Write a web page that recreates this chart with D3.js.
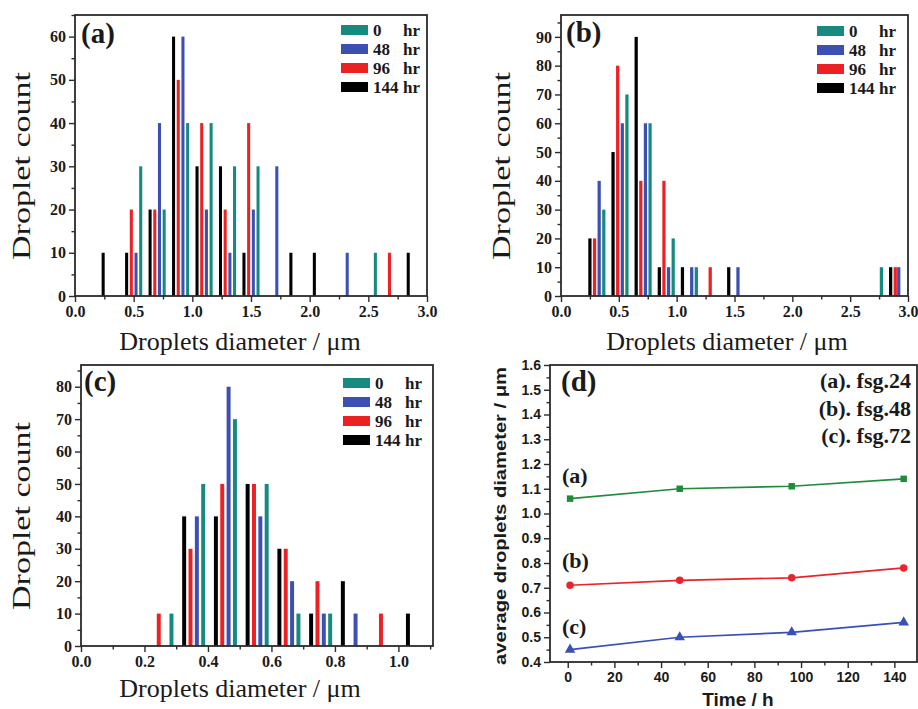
<!DOCTYPE html>
<html><head><meta charset="utf-8">
<script src="https://cdn.jsdelivr.net/npm/d3@7"></script>
<style>body{margin:0;background:#fff}svg{display:block}</style>
</head><body>
<svg id="c" width="918" height="709"></svg>
<script>
// ---------- DATA ----------
const legendNames = ["0", "48", "96", "144"];
const seriesColors = ["#178a80", "#3c4fb3", "#ec2124", "#000000"];

// panel (a): diameters (µm) and droplet counts
const a0x = [0.56, 0.76, 0.96, 1.16, 1.36, 1.56, 2.56];
const a0y = [30, 20, 40, 40, 30, 30, 10];
const a48x = [0.52, 0.72, 0.92, 1.12, 1.32, 1.52, 1.72, 2.32];
const a48y = [10, 40, 60, 20, 10, 20, 30, 10];
const a96x = [0.48, 0.68, 0.88, 1.08, 1.28, 1.48, 2.68];
const a96y = [20, 20, 50, 40, 20, 40, 10];
const a144x = [0.24, 0.44, 0.64, 0.84, 1.04, 1.24, 1.44, 1.84, 2.04, 2.84];
const a144y = [10, 10, 20, 60, 30, 30, 10, 10, 10, 10];

// panel (b)
const b0x = [0.37, 0.57, 0.77, 0.97, 1.17, 2.77];
const b0y = [30, 70, 60, 20, 10, 10];
const b48x = [0.33, 0.53, 0.73, 0.93, 1.13, 1.53, 2.92];
const b48y = [40, 60, 60, 10, 10, 10, 10];
const b96x = [0.29, 0.49, 0.69, 0.89, 1.29, 2.89];
const b96y = [20, 80, 40, 40, 10, 10];
const b144x = [0.25, 0.45, 0.65, 0.85, 1.05, 1.45, 2.85];
const b144y = [20, 50, 90, 10, 10, 10, 10];

// panel (c)
const c0x = [0.285, 0.385, 0.485, 0.585, 0.685, 0.785];
const c0y = [10, 50, 70, 50, 10, 10];
const c48x = [0.365, 0.465, 0.565, 0.665, 0.765, 0.865];
const c48y = [40, 80, 40, 20, 10, 10];
const c96x = [0.245, 0.345, 0.445, 0.545, 0.645, 0.745, 0.945];
const c96y = [10, 30, 50, 50, 30, 20, 10];
const c144x = [0.325, 0.425, 0.525, 0.625, 0.725, 0.825, 1.03];
const c144y = [40, 40, 50, 30, 10, 20, 10];

// panel (d)
const timeH = [1, 48, 96, 144];
const fsg24 = [1.06, 1.10, 1.11, 1.14];
const fsg48 = [0.71, 0.73, 0.74, 0.78];
const fsg72 = [0.45, 0.50, 0.52, 0.56];
const dLegend = ["(a). fsg.24", "(b). fsg.48", "(c). fsg.72"];

// ---------- DRAWING ----------
const svg = d3.select("#c");
const SERIF = "'Liberation Serif','Times New Roman',serif";
const SANS = "'Liberation Sans',Arial,sans-serif";
const AX = "#2b2b2b";
const TXT = "#1a1a1a";

function range(a, b, s) { const out = []; for (let v = a; v <= b + 1e-9; v += s) out.push(+v.toFixed(6)); return out; }

function styleAxis(g, font, size) {
  g.attr("font-family", font).attr("font-size", size);
  g.select(".domain").remove();
  g.selectAll(".tick line").attr("stroke", AX).attr("stroke-width", 1.4);
  g.selectAll(".tick text").attr("fill", TXT).attr("font-family", font)
    .attr("font-weight", "bold").attr("font-size", size);
}

function drawFrame(p, x, y, font, size) {
  const g = svg.append("g");
  g.append("g").attr("transform", `translate(0,${p.b})`)
    .call(d3.axisBottom(x).tickValues(p.xMinor).tickSize(3.5).tickFormat(""))
    .call(s => styleAxis(s, font, size));
  g.append("g").attr("transform", `translate(${p.l},0)`)
    .call(d3.axisLeft(y).tickValues(p.yMinor).tickSize(3.5).tickFormat(""))
    .call(s => styleAxis(s, font, size));
  g.append("g").attr("transform", `translate(0,${p.b})`)
    .call(d3.axisBottom(x).tickValues(p.xMajor).tickSize(6).tickPadding(p.xPad).tickFormat(p.xFmt))
    .call(s => styleAxis(s, font, size));
  g.append("g").attr("transform", `translate(${p.l},0)`)
    .call(d3.axisLeft(y).tickValues(p.yMajor).tickSize(6).tickPadding(p.yPad).tickFormat(p.yFmt))
    .call(s => styleAxis(s, font, size));
  svg.append("rect").attr("x", p.l).attr("y", p.t).attr("width", p.r - p.l).attr("height", p.b - p.t)
    .attr("fill", "none").attr("stroke", AX).attr("stroke-width", 1.8);
}

function drawHist(p) {
  const x = d3.scaleLinear().domain(p.xd).range([p.l, p.r]);
  const y = d3.scaleLinear().domain(p.yd).range([p.b, p.t]);
  const bw = x(p.barW) - x(0);
  p.series.forEach((s, i) => {
    svg.append("g").selectAll("rect")
      .data(s.x.map((v, j) => ({ d: v, c: s.y[j] })))
      .join("rect")
      .attr("x", d => x(d.d) - bw / 2).attr("width", bw)
      .attr("y", d => y(d.c)).attr("height", d => y(0) - y(d.c))
      .attr("fill", seriesColors[i]);
  });
  drawFrame(p, x, y, SERIF, 16);
  svg.append("text").attr("x", p.tagX).attr("y", p.tagY).text(p.tag)
    .attr("font-family", SERIF).attr("font-weight", "bold").attr("font-size", 29).attr("fill", TXT);
  legendNames.forEach((n, i) => {
    const cy = p.legY + i * 19;
    svg.append("rect").attr("x", p.legX).attr("y", cy - 5).attr("width", 27).attr("height", 10)
      .attr("fill", seriesColors[i]);
    const t = svg.append("text").attr("y", cy + 6).attr("font-family", SERIF).attr("font-weight", "bold")
      .attr("font-size", 17).attr("fill", TXT);
    t.append("tspan").attr("x", p.legX + 32).text(n);
    t.append("tspan").attr("x", p.legX + 62).text("hr");
  });
  svg.append("text").attr("x", p.xtX).attr("y", p.xtY).attr("text-anchor", "middle")
    .attr("font-family", SERIF).attr("font-size", 26).attr("fill", TXT).text("Droplets diameter / μm");
  svg.append("text").attr("transform", `translate(${p.ytX},${p.ytY}) rotate(-90)`)
    .attr("text-anchor", "middle").attr("font-family", SERIF).attr("font-size", 26).attr("fill", TXT)
    .attr("textLength", 188).attr("lengthAdjust", "spacingAndGlyphs").text("Droplet count");
}

const f1 = d3.format(".1f"), f0 = d3.format("d");

drawHist({
  l: 75, r: 427, t: 15, b: 296, xd: [0, 3], yd: [0, 65],
  xMajor: range(0, 3, 0.5), xMinor: range(0.25, 2.75, 0.5), yMajor: range(0, 60, 10), yMinor: range(5, 65, 10),
  xFmt: f1, yFmt: f0, xPad: 4, yPad: 3, barW: 0.026,
  series: [{ x: a0x, y: a0y }, { x: a48x, y: a48y }, { x: a96x, y: a96y }, { x: a144x, y: a144y }],
  tag: "(a)", tagX: 81, tagY: 43, legX: 341, legY: 30,
  xtX: 240, xtY: 350, ytX: 30, ytY: 166
});

drawHist({
  l: 561, r: 908, t: 15, b: 296, xd: [0, 3], yd: [0, 97.6],
  xMajor: range(0, 3, 0.5), xMinor: range(0.25, 2.75, 0.5), yMajor: range(0, 90, 10), yMinor: range(5, 95, 10),
  xFmt: f1, yFmt: f0, xPad: 4, yPad: 3, barW: 0.028,
  series: [{ x: b0x, y: b0y }, { x: b48x, y: b48y }, { x: b96x, y: b96y }, { x: b144x, y: b144y }],
  tag: "(b)", tagX: 566, tagY: 42, legX: 817, legY: 31,
  xtX: 727, xtY: 350, ytX: 510, ytY: 166
});

drawHist({
  l: 81, r: 433, t: 365, b: 646, xd: [0, 1.109], yd: [0, 86.7],
  xMajor: range(0, 1.0, 0.2), xMinor: range(0.1, 1.1, 0.2), yMajor: range(0, 80, 10), yMinor: range(5, 85, 10),
  xFmt: f1, yFmt: f0, xPad: 4, yPad: 3, barW: 0.0125,
  series: [{ x: c0x, y: c0y }, { x: c48x, y: c48y }, { x: c96x, y: c96y }, { x: c144x, y: c144y }],
  tag: "(c)", tagX: 84, tagY: 391, legX: 343, legY: 383,
  xtX: 240, xtY: 697, ytX: 30, ytY: 516
});

// panel (d)
(function () {
  const p = {
    l: 550, r: 917, t: 365, b: 662,
    xMajor: range(0, 140, 20), xMinor: range(10, 140, 20), yMajor: range(0.4, 1.6, 0.1), yMinor: range(0.45, 1.55, 0.1),
    xFmt: f0, yFmt: f1, xPad: 4, yPad: 3
  };
  const x = d3.scaleLinear().domain([-7.6, 149.7]).range([p.l, p.r]);
  const y = d3.scaleLinear().domain([0.4, 1.6]).range([p.b, p.t]);
  drawFrame(p, x, y, SANS, 14);
  const lines = [
    { v: fsg24, c: "#1f8c3b", m: "square", tag: "(a)" },
    { v: fsg48, c: "#e8252a", m: "circle", tag: "(b)" },
    { v: fsg72, c: "#3a4fb8", m: "triangle", tag: "(c)" }
  ];
  const line = d3.line().x(d => x(d[0])).y(d => y(d[1]));
  const tagY = [483, 568, 634];
  lines.forEach((L, i) => {
    const pts = timeH.map((t, j) => [t, L.v[j]]);
    svg.append("path").attr("d", line(pts)).attr("fill", "none").attr("stroke", L.c).attr("stroke-width", 1.7);
    const sym = L.m === "square" ? d3.symbolSquare : L.m === "circle" ? d3.symbolCircle : d3.symbolTriangle;
    const size = L.m === "triangle" ? 48 : L.m === "square" ? 42 : 44;
    svg.append("g").selectAll("path").data(pts).join("path")
      .attr("transform", d => `translate(${x(d[0])},${y(d[1])})`)
      .attr("d", d3.symbol(sym, size)).attr("fill", L.c);
    svg.append("text").attr("x", 562).attr("y", tagY[i]).text(L.tag)
      .attr("font-family", SERIF).attr("font-weight", "bold").attr("font-size", 22).attr("fill", TXT);
  });
  dLegend.forEach((s, i) => {
    svg.append("text").attr("x", 911).attr("y", 388 + i * 27.5).attr("text-anchor", "end").text(s)
      .attr("font-family", SERIF).attr("font-weight", "bold").attr("font-size", 22).attr("fill", TXT);
  });
  svg.append("text").attr("x", 561).attr("y", 391).text("(d)")
    .attr("font-family", SERIF).attr("font-weight", "bold").attr("font-size", 29).attr("fill", TXT);
  svg.append("text").attr("x", 738).attr("y", 706).attr("text-anchor", "middle").text("Time / h")
    .attr("font-family", SANS).attr("font-weight", "bold").attr("font-size", 19).attr("fill", TXT);
  svg.append("text").attr("transform", "translate(506,516) rotate(-90)").attr("text-anchor", "middle")
    .attr("font-family", SANS).attr("font-weight", "bold").attr("font-size", 16).attr("fill", TXT)
    .attr("textLength", 298).attr("lengthAdjust", "spacingAndGlyphs").text("average droplets diameter / μm");
})();
</script>
</body></html>
